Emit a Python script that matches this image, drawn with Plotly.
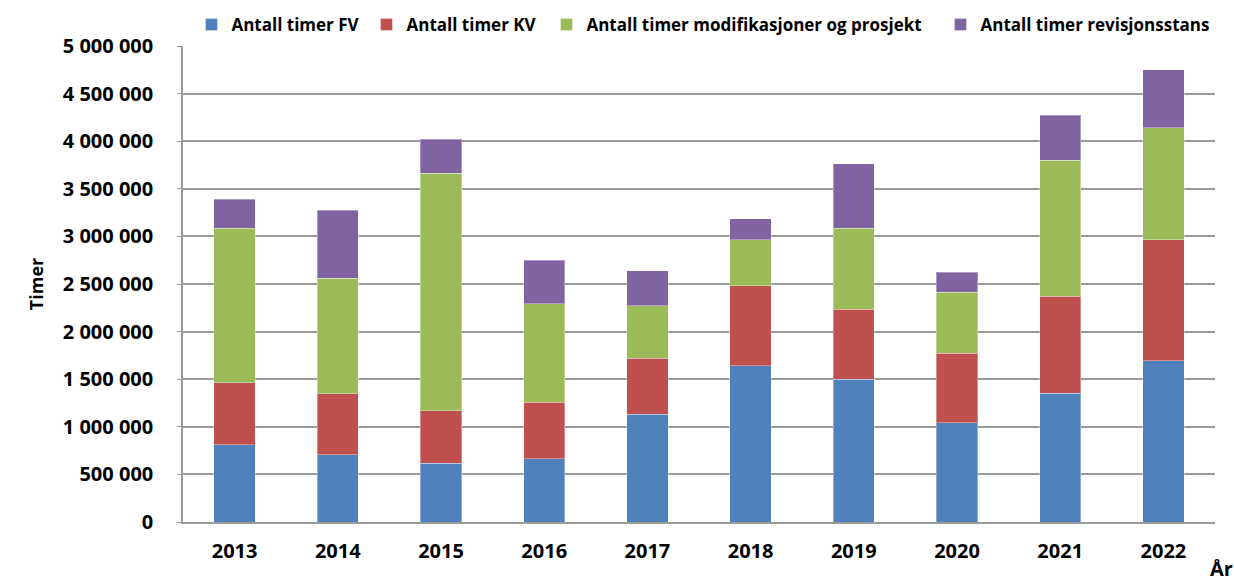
import plotly.graph_objects as go

years = ["2013", "2014", "2015", "2016", "2017", "2018", "2019", "2020", "2021", "2022"]
timer_fv = [810000, 704000, 616000, 662000, 1131000, 1639000, 1499000, 1040000, 1352000, 1694000]
timer_kv = [653000, 644000, 553000, 598000, 588000, 843000, 736000, 735000, 1019000, 1272000]
timer_mod = [1625000, 1215000, 2497000, 1030000, 550000, 484000, 853000, 637000, 1429000, 1173000]
timer_rev = [302000, 711000, 357000, 459000, 368000, 217000, 676000, 214000, 472000, 609000]

series = [
    ("Antall timer FV", timer_fv, "#4F81BD", "legend", 0.0082),
    ("Antall timer KV", timer_kv, "#C0504D", "legend2", 0.1778),
    ("Antall timer modifikasjoner og prosjekt", timer_mod, "#9BBB59", "legend3", 0.3522),
    ("Antall timer revisjonsstans", timer_rev, "#8064A2", "legend4", 0.734),
]

tick_vals = [0, 500000, 1000000, 1500000, 2000000, 2500000, 3000000, 3500000, 4000000, 4500000, 5000000]
tick_text = ["0", "500 000", "1 000 000", "1 500 000", "2 000 000", "2 500 000",
             "3 000 000", "3 500 000", "4 000 000", "4 500 000", "5 000 000"]

FONT = "Open Sans"

fig = go.Figure()
legends = {}
for name, vals, color, leg, lx in series:
    fig.add_trace(go.Bar(
        x=years, y=vals, name=name, legend=leg,
        marker=dict(color=color, line=dict(color="rgba(255,255,255,0.35)", width=1)),
    ))
    legends[leg] = dict(
        orientation="h",
        x=lx, y=0.957, xanchor="left", yanchor="middle", yref="container",
        font=dict(family=FONT, size=17, color="black", weight="bold"),
        itemwidth=30,
        bgcolor="rgba(0,0,0,0)",
    )

fig.update_layout(
    barmode="stack",
    bargap=0.6,
    width=1234, height=581,
    margin=dict(l=183, r=19, t=46, b=59, autoexpand=False),
    paper_bgcolor="white",
    plot_bgcolor="white",
    font=dict(family=FONT, color="black"),
    showlegend=True,
    xaxis=dict(
        showgrid=False,
        showline=True, linecolor="#9a9a9a", linewidth=1.5,
        ticks="",
        ticklabelstandoff=10,
        tickfont=dict(family=FONT, size=20, color="black", weight="bold"),
    ),
    yaxis=dict(
        range=[0, 5000000],
        tickvals=tick_vals, ticktext=tick_text,
        showgrid=True, gridcolor="#9a9a9a", gridwidth=1.5,
        showline=True, linecolor="#9a9a9a", linewidth=1.5,
        ticks="outside", ticklen=4, tickcolor="#9a9a9a",
        ticklabelstandoff=20,
        tickfont=dict(family=FONT, size=20, color="black", weight="bold"),
        title=dict(text="Timer", font=dict(family=FONT, size=18, color="black", weight="bold"), standoff=14),
        zeroline=False,
    ),
    annotations=[
        dict(text="År", x=1.0, y=0, xref="paper", yref="paper",
             xanchor="center", yanchor="middle", yshift=-46, xshift=6, showarrow=False,
             font=dict(family=FONT, size=20, color="black", weight="bold")),
    ],
    **legends,
)

fig.write_html(
    "out.html",
    config={"displayModeBar": False},
    post_script="document.body.style.margin='0px';document.body.style.overflow='hidden';",
)
